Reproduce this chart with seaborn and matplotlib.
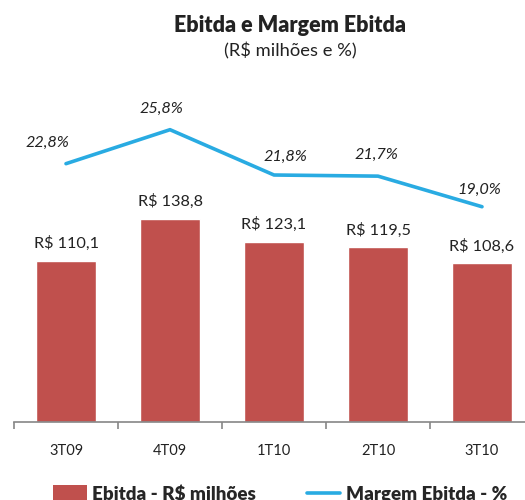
import matplotlib
matplotlib.use("Agg")
import matplotlib.pyplot as plt
import seaborn as sns
import pandas as pd
from matplotlib.patches import Patch
from matplotlib.lines import Line2D

# data
periods = ["3T09", "4T09", "1T10", "2T10", "3T10"]
ebitda = [110.1, 138.8, 123.1, 119.5, 108.6]
margem = [22.8, 25.8, 21.8, 21.7, 19.0]
ebitda_labels = ["R$ 110,1", "R$ 138,8", "R$ 123,1", "R$ 119,5", "R$ 108,6"]
margem_labels = ["22,8%", "25,8%", "21,8%", "21,7%", "19,0%"]
# label offsets (points) for the margin labels
margem_offsets = [(-13, 15), (-6, 15), (8, 13), (-1, 15), (-2, 12)]

BAR_COLOR = "#C0504D"
LINE_COLOR = "#29ABE2"

sns.set_style("white")
plt.rcParams["font.family"] = ["Lato", "DejaVu Sans"]

df = pd.DataFrame({"periodo": periods, "ebitda": ebitda, "margem": margem})

fig = plt.figure(figsize=(5.25, 5.0), dpi=100)
ax = fig.add_axes([14 / 525, 78 / 500, 520 / 525, 342 / 500])

sns.barplot(data=df, x="periodo", y="ebitda", color=BAR_COLOR, width=0.57,
            saturation=1, ax=ax)
ax.set_xlim(-0.5, 4.5)
ax.set_ylim(0, 342 / 1.462)

for i, (v, lab) in enumerate(zip(ebitda, ebitda_labels)):
    ax.annotate(lab, (i, v), xytext=(0, 7), textcoords="offset points",
                ha="center", va="bottom", fontsize=11.7, color="#222222")

ax2 = ax.twinx()
sns.lineplot(x=list(range(len(periods))), y=margem, color=LINE_COLOR,
             linewidth=2.6, ax=ax2)
ax2.set_ylim(0, 342 / 11.33)
ax2.set_xlim(-0.5, 4.5)

for i, (v, lab, off) in enumerate(zip(margem, margem_labels, margem_offsets)):
    ax2.annotate(lab, (i, v), xytext=off, textcoords="offset points",
                 ha="center", va="center", fontsize=11.7, style="italic",
                 color="#222222")

for a in (ax, ax2):
    for s in ("top", "right", "left"):
        a.spines[s].set_visible(False)
    a.set_yticks([])
    a.set_ylabel("")
ax2.spines["bottom"].set_visible(False)
ax.spines["bottom"].set_color("#868686")
ax.spines["bottom"].set_linewidth(1.2)

# tick marks between categories, labels centered
ax.set_xticks([i - 0.5 for i in range(len(periods) + 1)], minor=False)
ax.set_xticklabels([])
ax.tick_params(axis="x", which="major", direction="out", length=5,
               color="#868686", width=1.2, bottom=True)
ax.set_xticks(range(len(periods)), minor=True)
ax.set_xticklabels(periods, minor=True, fontsize=10.5, color="#222222")
ax.tick_params(axis="x", which="minor", length=0, pad=16)
ax.set_xlabel("")

fig.text(290 / 525, 1 - 25 / 500, "Ebitda e Margem Ebitda", ha="center",
         va="center", fontsize=15.5, fontweight="heavy", color="#222222")
fig.text(290 / 525, 1 - 51 / 500, "(R$ milhões e %)", ha="center",
         va="center", fontsize=13.2, color="#222222")

handles = [Patch(facecolor=BAR_COLOR, edgecolor="none"),
           Line2D([0], [0], color=LINE_COLOR, linewidth=2.6)]
fig.legend(handles, ["Ebitda - R$ milhões", "Margem Ebitda - %"],
           loc="center", bbox_to_anchor=(280 / 525, 1 - 494 / 500), ncol=2,
           frameon=False, prop={"weight": "heavy", "size": 13.5},
           handlelength=1.8, handleheight=1.0, columnspacing=2.7,
           handletextpad=0.3)

fig.savefig("out.png", dpi=100)
